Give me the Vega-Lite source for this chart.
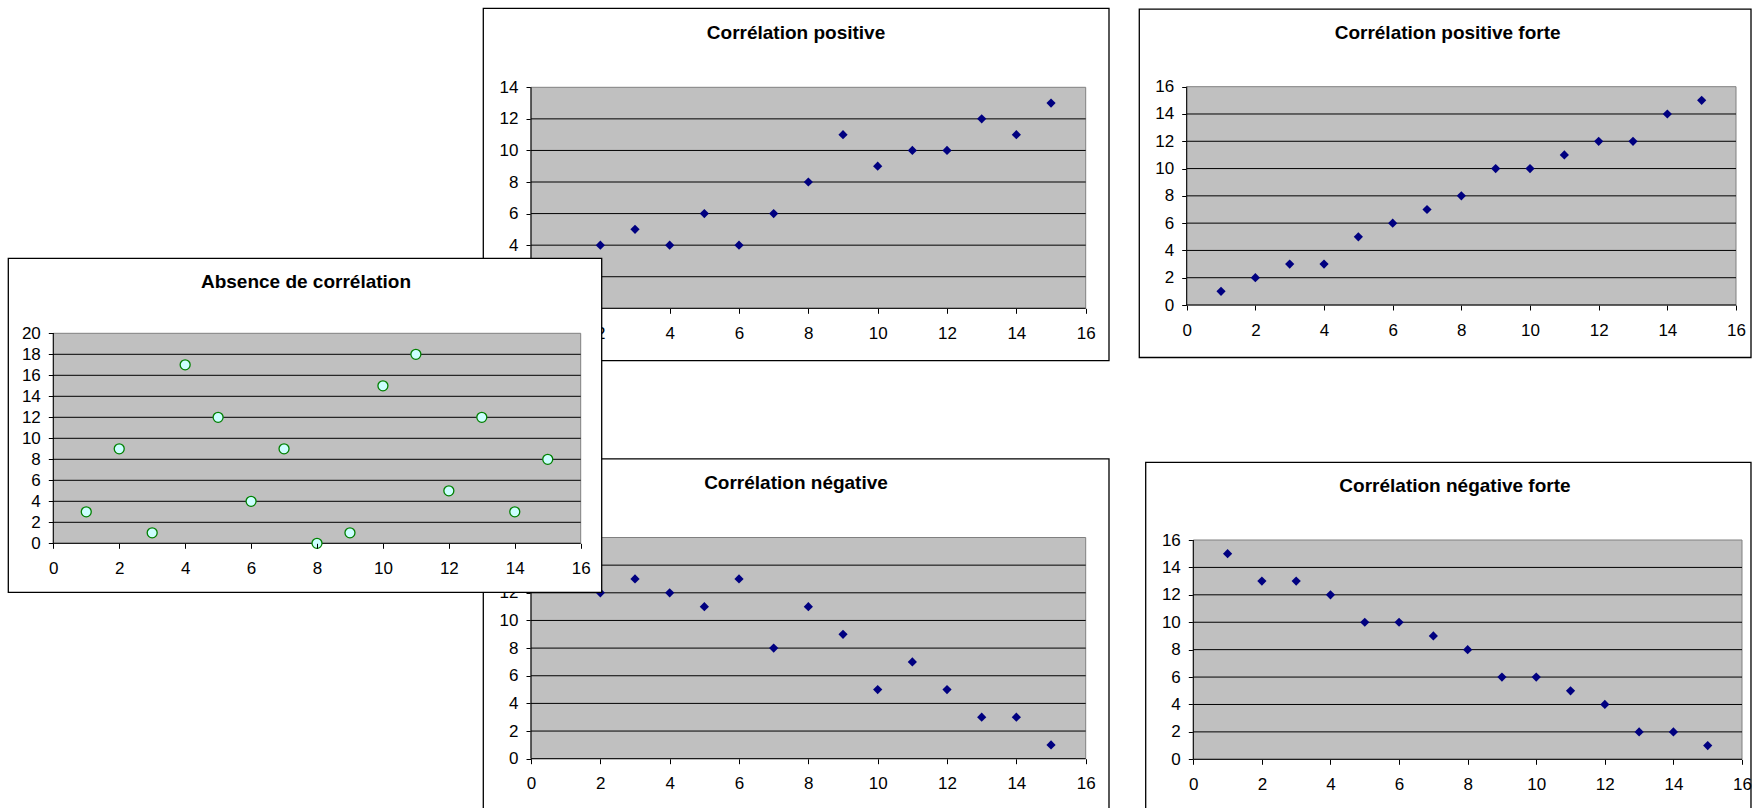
{
  "$schema": "https://vega.github.io/schema/vega-lite/v6.json",
  "width": 1752,
  "height": 808,
  "autosize": {"type": "none"},
  "padding": 0,
  "background": "white",
  "config": {
    "view": {"stroke": null},
    "axis": {"domain": false, "grid": false, "ticks": true, "tickColor": "black", "tickSize": 5, "tickWidth": 1, "labelFont": "Liberation Sans", "labelFontSize": 17, "labelColor": "black", "labelFlush": false, "labelOverlap": false},
    "axisX": {"labelPadding": 12},
    "axisY": {"labelPadding": 8}
  },
  "datasets": {
    "pos": [{"x":1,"y":2},{"x":2,"y":4},{"x":3,"y":5},{"x":4,"y":4},{"x":5,"y":6},{"x":6,"y":4},{"x":7,"y":6},{"x":8,"y":8},{"x":9,"y":11},{"x":10,"y":9},{"x":11,"y":10},{"x":12,"y":10},{"x":13,"y":12},{"x":14,"y":11},{"x":15,"y":13}],
    "posf": [{"x":1,"y":1},{"x":2,"y":2},{"x":3,"y":3},{"x":4,"y":3},{"x":5,"y":5},{"x":6,"y":6},{"x":7,"y":7},{"x":8,"y":8},{"x":9,"y":10},{"x":10,"y":10},{"x":11,"y":11},{"x":12,"y":12},{"x":13,"y":12},{"x":14,"y":14},{"x":15,"y":15}],
    "neg": [{"x":1,"y":14},{"x":2,"y":12},{"x":3,"y":13},{"x":4,"y":12},{"x":5,"y":11},{"x":6,"y":13},{"x":7,"y":8},{"x":8,"y":11},{"x":9,"y":9},{"x":10,"y":5},{"x":11,"y":7},{"x":12,"y":5},{"x":13,"y":3},{"x":14,"y":3},{"x":15,"y":1}],
    "negf": [{"x":1,"y":15},{"x":2,"y":13},{"x":3,"y":13},{"x":4,"y":12},{"x":5,"y":10},{"x":6,"y":10},{"x":7,"y":9},{"x":8,"y":8},{"x":9,"y":6},{"x":10,"y":6},{"x":11,"y":5},{"x":12,"y":4},{"x":13,"y":2},{"x":14,"y":2},{"x":15,"y":1}],
    "abs": [{"x":1,"y":3},{"x":2,"y":9},{"x":3,"y":1},{"x":4,"y":17},{"x":5,"y":12},{"x":6,"y":4},{"x":7,"y":9},{"x":8,"y":0},{"x":9,"y":1},{"x":10,"y":15},{"x":11,"y":18},{"x":12,"y":5},{"x":13,"y":12},{"x":14,"y":3},{"x":15,"y":8}],
    "g14": [{"v":2},{"v":4},{"v":6},{"v":8},{"v":10},{"v":12}],
    "g16": [{"v":2},{"v":4},{"v":6},{"v":8},{"v":10},{"v":12},{"v":14}],
    "g20": [{"v":2},{"v":4},{"v":6},{"v":8},{"v":10},{"v":12},{"v":14},{"v":16},{"v":18}],
    "one": [{}]
  },
  "resolve": {"scale": {"x": "independent", "y": "independent"}, "axis": {"x": "independent", "y": "independent"}},
  "layer": [
    {
      "layer": [
        {"data": {"name": "one"}, "mark": {"type": "rect", "fill": "transparent", "stroke": "black", "strokeWidth": 1.3},
         "encoding": {"x": {"datum": -1.376, "type": "quantitative", "scale": {"domain": [0,16], "range": [531,1085.7], "nice": false, "zero": false}, "axis": {"orient": "bottom", "offset": -499.7, "values": [0,2,4,6,8,10,12,14,16], "title": null, "zindex": 0}}, "x2": {"datum": 16.672},
                      "y": {"datum": 19.004, "type": "quantitative", "scale": {"domain": [0,14], "range": [308.3,87.3], "nice": false, "zero": false}, "axis": {"orient": "left", "offset": -531, "values": [0,2,4,6,8,10,12,14], "title": null, "zindex": 0}}, "y2": {"datum": -3.319}}},
        {"data": {"name": "one"}, "mark": {"type": "rect", "fill": "#c0c0c0", "stroke": "#808080", "strokeWidth": 1},
         "encoding": {"x": {"datum": 0, "type": "quantitative", "axis": {"orient": "bottom", "offset": -499.7, "values": [0,2,4,6,8,10,12,14,16], "title": null, "zindex": 0}}, "x2": {"datum": 16}, "y": {"datum": 0, "type": "quantitative", "axis": {"orient": "left", "offset": -531, "values": [0,2,4,6,8,10,12,14], "title": null, "zindex": 0}}, "y2": {"datum": 14}}},
        {"data": {"name": "g14"}, "mark": {"type": "rule", "color": "black", "strokeWidth": 1},
         "encoding": {"x": {"datum": 0, "type": "quantitative", "axis": {"orient": "bottom", "offset": -499.7, "values": [0,2,4,6,8,10,12,14,16], "title": null, "zindex": 0}}, "x2": {"datum": 16}, "y": {"field": "v", "type": "quantitative", "axis": {"orient": "left", "offset": -531, "values": [0,2,4,6,8,10,12,14], "title": null, "zindex": 0}}}},
        {"data": {"name": "one"}, "mark": {"type": "rule", "color": "black", "strokeWidth": 1},
         "encoding": {"x": {"datum": 0, "type": "quantitative", "axis": {"orient": "bottom", "offset": -499.7, "values": [0,2,4,6,8,10,12,14,16], "title": null, "zindex": 0}}, "x2": {"datum": 16}, "y": {"datum": 0, "type": "quantitative", "axis": {"orient": "left", "offset": -531, "values": [0,2,4,6,8,10,12,14], "title": null, "zindex": 0}}}},
        {"data": {"name": "one"}, "mark": {"type": "rule", "color": "black", "strokeWidth": 1},
         "encoding": {"x": {"datum": 0, "type": "quantitative", "axis": {"orient": "bottom", "offset": -499.7, "values": [0,2,4,6,8,10,12,14,16], "title": null, "zindex": 0}}, "y": {"datum": 0, "type": "quantitative", "axis": {"orient": "left", "offset": -531, "values": [0,2,4,6,8,10,12,14], "title": null, "zindex": 0}}, "y2": {"datum": 14}}},
        {"data": {"name": "pos"}, "mark": {"type": "point", "shape": "diamond", "filled": true, "color": "#000080", "size": 85, "opacity": 1},
         "encoding": {"x": {"field": "x", "type": "quantitative", "scale": {"domain": [0,16], "range": [531,1085.7], "nice": false, "zero": false}, "axis": {"orient": "bottom", "offset": -499.7, "values": [0,2,4,6,8,10,12,14,16], "title": null, "zindex": 0}},
                      "y": {"field": "y", "type": "quantitative", "scale": {"domain": [0,14], "range": [308.3,87.3], "nice": false, "zero": false}, "axis": {"orient": "left", "offset": -531, "values": [0,2,4,6,8,10,12,14], "title": null, "zindex": 0}}}},
        {"data": {"name": "one"}, "mark": {"type": "text", "text": "Corrélation positive", "font": "Liberation Sans", "fontSize": 19, "fontWeight": "bold", "color": "black", "align": "center", "baseline": "middle"},
         "encoding": {"x": {"datum": 7.644, "type": "quantitative", "axis": {"orient": "bottom", "offset": -499.7, "values": [0,2,4,6,8,10,12,14,16], "title": null, "zindex": 0}}, "y": {"datum": 17.42, "type": "quantitative", "axis": {"orient": "left", "offset": -531, "values": [0,2,4,6,8,10,12,14], "title": null, "zindex": 0}}}}
      ]
    },
    {
      "layer": [
        {"data": {"name": "one"}, "mark": {"type": "rect", "fill": "transparent", "stroke": "black", "strokeWidth": 1.3},
         "encoding": {"x": {"datum": -1.376, "type": "quantitative", "scale": {"domain": [0,16], "range": [531,1085.7], "nice": false, "zero": false}, "axis": {"orient": "bottom", "offset": -49.3, "values": [0,2,4,6,8,10,12,14,16], "title": null, "zindex": 0}}, "x2": {"datum": 16.672},
                      "y": {"datum": 21.68, "type": "quantitative", "scale": {"domain": [0,16], "range": [758.7,537.5], "nice": false, "zero": false}, "axis": {"orient": "left", "offset": -531, "values": [0,2,4,6,8,10,12], "title": null, "zindex": 0}}, "y2": {"datum": -4.07}}},
        {"data": {"name": "one"}, "mark": {"type": "rect", "fill": "#c0c0c0", "stroke": "#808080", "strokeWidth": 1},
         "encoding": {"x": {"datum": 0, "type": "quantitative", "axis": {"orient": "bottom", "offset": -49.3, "values": [0,2,4,6,8,10,12,14,16], "title": null, "zindex": 0}}, "x2": {"datum": 16}, "y": {"datum": 0, "type": "quantitative", "axis": {"orient": "left", "offset": -531, "values": [0,2,4,6,8,10,12], "title": null, "zindex": 0}}, "y2": {"datum": 16}}},
        {"data": {"name": "g16"}, "mark": {"type": "rule", "color": "black", "strokeWidth": 1},
         "encoding": {"x": {"datum": 0, "type": "quantitative", "axis": {"orient": "bottom", "offset": -49.3, "values": [0,2,4,6,8,10,12,14,16], "title": null, "zindex": 0}}, "x2": {"datum": 16}, "y": {"field": "v", "type": "quantitative", "axis": {"orient": "left", "offset": -531, "values": [0,2,4,6,8,10,12], "title": null, "zindex": 0}}}},
        {"data": {"name": "one"}, "mark": {"type": "rule", "color": "black", "strokeWidth": 1},
         "encoding": {"x": {"datum": 0, "type": "quantitative", "axis": {"orient": "bottom", "offset": -49.3, "values": [0,2,4,6,8,10,12,14,16], "title": null, "zindex": 0}}, "x2": {"datum": 16}, "y": {"datum": 0, "type": "quantitative", "axis": {"orient": "left", "offset": -531, "values": [0,2,4,6,8,10,12], "title": null, "zindex": 0}}}},
        {"data": {"name": "one"}, "mark": {"type": "rule", "color": "black", "strokeWidth": 1},
         "encoding": {"x": {"datum": 0, "type": "quantitative", "axis": {"orient": "bottom", "offset": -49.3, "values": [0,2,4,6,8,10,12,14,16], "title": null, "zindex": 0}}, "y": {"datum": 0, "type": "quantitative", "axis": {"orient": "left", "offset": -531, "values": [0,2,4,6,8,10,12], "title": null, "zindex": 0}}, "y2": {"datum": 16}}},
        {"data": {"name": "neg"}, "mark": {"type": "point", "shape": "diamond", "filled": true, "color": "#000080", "size": 85, "opacity": 1},
         "encoding": {"x": {"field": "x", "type": "quantitative", "scale": {"domain": [0,16], "range": [531,1085.7], "nice": false, "zero": false}, "axis": {"orient": "bottom", "offset": -49.3, "values": [0,2,4,6,8,10,12,14,16], "title": null, "zindex": 0}},
                      "y": {"field": "y", "type": "quantitative", "scale": {"domain": [0,16], "range": [758.7,537.5], "nice": false, "zero": false}, "axis": {"orient": "left", "offset": -531, "values": [0,2,4,6,8,10,12], "title": null, "zindex": 0}}}},
        {"data": {"name": "one"}, "mark": {"type": "text", "text": "Corrélation négative", "font": "Liberation Sans", "fontSize": 19, "fontWeight": "bold", "color": "black", "align": "center", "baseline": "middle"},
         "encoding": {"x": {"datum": 7.644, "type": "quantitative", "axis": {"orient": "bottom", "offset": -49.3, "values": [0,2,4,6,8,10,12,14,16], "title": null, "zindex": 0}}, "y": {"datum": 19.92, "type": "quantitative", "axis": {"orient": "left", "offset": -531, "values": [0,2,4,6,8,10,12], "title": null, "zindex": 0}}}}
      ]
    },
    {
      "layer": [
        {"data": {"name": "one"}, "mark": {"type": "rect", "fill": "transparent", "stroke": "black", "strokeWidth": 1.3},
         "encoding": {"x": {"datum": -1.381, "type": "quantitative", "scale": {"domain": [0,16], "range": [1186.7,1736], "nice": false, "zero": false}, "axis": {"orient": "bottom", "offset": -503, "values": [0,2,4,6,8,10,12,14,16], "title": null, "zindex": 0}}, "x2": {"datum": 16.437},
                      "y": {"datum": 21.69, "type": "quantitative", "scale": {"domain": [0,16], "range": [305,86.7], "nice": false, "zero": false}, "axis": {"orient": "left", "offset": -1186.7, "values": [0,2,4,6,8,10,12,14,16], "title": null, "zindex": 0}}, "y2": {"datum": -3.848}}},
        {"data": {"name": "one"}, "mark": {"type": "rect", "fill": "#c0c0c0", "stroke": "#808080", "strokeWidth": 1},
         "encoding": {"x": {"datum": 0, "type": "quantitative", "axis": {"orient": "bottom", "offset": -503, "values": [0,2,4,6,8,10,12,14,16], "title": null, "zindex": 0}}, "x2": {"datum": 16}, "y": {"datum": 0, "type": "quantitative", "axis": {"orient": "left", "offset": -1186.7, "values": [0,2,4,6,8,10,12,14,16], "title": null, "zindex": 0}}, "y2": {"datum": 16}}},
        {"data": {"name": "g16"}, "mark": {"type": "rule", "color": "black", "strokeWidth": 1},
         "encoding": {"x": {"datum": 0, "type": "quantitative", "axis": {"orient": "bottom", "offset": -503, "values": [0,2,4,6,8,10,12,14,16], "title": null, "zindex": 0}}, "x2": {"datum": 16}, "y": {"field": "v", "type": "quantitative", "axis": {"orient": "left", "offset": -1186.7, "values": [0,2,4,6,8,10,12,14,16], "title": null, "zindex": 0}}}},
        {"data": {"name": "one"}, "mark": {"type": "rule", "color": "black", "strokeWidth": 1},
         "encoding": {"x": {"datum": 0, "type": "quantitative", "axis": {"orient": "bottom", "offset": -503, "values": [0,2,4,6,8,10,12,14,16], "title": null, "zindex": 0}}, "x2": {"datum": 16}, "y": {"datum": 0, "type": "quantitative", "axis": {"orient": "left", "offset": -1186.7, "values": [0,2,4,6,8,10,12,14,16], "title": null, "zindex": 0}}}},
        {"data": {"name": "one"}, "mark": {"type": "rule", "color": "black", "strokeWidth": 1},
         "encoding": {"x": {"datum": 0, "type": "quantitative", "axis": {"orient": "bottom", "offset": -503, "values": [0,2,4,6,8,10,12,14,16], "title": null, "zindex": 0}}, "y": {"datum": 0, "type": "quantitative", "axis": {"orient": "left", "offset": -1186.7, "values": [0,2,4,6,8,10,12,14,16], "title": null, "zindex": 0}}, "y2": {"datum": 16}}},
        {"data": {"name": "posf"}, "mark": {"type": "point", "shape": "diamond", "filled": true, "color": "#000080", "size": 85, "opacity": 1},
         "encoding": {"x": {"field": "x", "type": "quantitative", "scale": {"domain": [0,16], "range": [1186.7,1736], "nice": false, "zero": false}, "axis": {"orient": "bottom", "offset": -503, "values": [0,2,4,6,8,10,12,14,16], "title": null, "zindex": 0}},
                      "y": {"field": "y", "type": "quantitative", "scale": {"domain": [0,16], "range": [305,86.7], "nice": false, "zero": false}, "axis": {"orient": "left", "offset": -1186.7, "values": [0,2,4,6,8,10,12,14,16], "title": null, "zindex": 0}}}},
        {"data": {"name": "one"}, "mark": {"type": "text", "text": "Corrélation positive forte", "font": "Liberation Sans", "fontSize": 19, "fontWeight": "bold", "color": "black", "align": "center", "baseline": "middle"},
         "encoding": {"x": {"datum": 7.6, "type": "quantitative", "axis": {"orient": "bottom", "offset": -503, "values": [0,2,4,6,8,10,12,14,16], "title": null, "zindex": 0}}, "y": {"datum": 19.91, "type": "quantitative", "axis": {"orient": "left", "offset": -1186.7, "values": [0,2,4,6,8,10,12,14,16], "title": null, "zindex": 0}}}}
      ]
    },
    {
      "layer": [
        {"data": {"name": "one"}, "mark": {"type": "rect", "fill": "transparent", "stroke": "black", "strokeWidth": 1.3},
         "encoding": {"x": {"datum": -1.388, "type": "quantitative", "scale": {"domain": [0,16], "range": [1193.3,1742], "nice": false, "zero": false}, "axis": {"orient": "bottom", "offset": -48.7, "values": [0,2,4,6,8,10,12,14,16], "title": null, "zindex": 0}}, "x2": {"datum": 16.262},
                      "y": {"datum": 21.67, "type": "quantitative", "scale": {"domain": [0,16], "range": [759.3,540], "nice": false, "zero": false}, "axis": {"orient": "left", "offset": -1193.3, "values": [0,2,4,6,8,10,12,14,16], "title": null, "zindex": 0}}, "y2": {"datum": -4.06}}},
        {"data": {"name": "one"}, "mark": {"type": "rect", "fill": "#c0c0c0", "stroke": "#808080", "strokeWidth": 1},
         "encoding": {"x": {"datum": 0, "type": "quantitative", "axis": {"orient": "bottom", "offset": -48.7, "values": [0,2,4,6,8,10,12,14,16], "title": null, "zindex": 0}}, "x2": {"datum": 16}, "y": {"datum": 0, "type": "quantitative", "axis": {"orient": "left", "offset": -1193.3, "values": [0,2,4,6,8,10,12,14,16], "title": null, "zindex": 0}}, "y2": {"datum": 16}}},
        {"data": {"name": "g16"}, "mark": {"type": "rule", "color": "black", "strokeWidth": 1},
         "encoding": {"x": {"datum": 0, "type": "quantitative", "axis": {"orient": "bottom", "offset": -48.7, "values": [0,2,4,6,8,10,12,14,16], "title": null, "zindex": 0}}, "x2": {"datum": 16}, "y": {"field": "v", "type": "quantitative", "axis": {"orient": "left", "offset": -1193.3, "values": [0,2,4,6,8,10,12,14,16], "title": null, "zindex": 0}}}},
        {"data": {"name": "one"}, "mark": {"type": "rule", "color": "black", "strokeWidth": 1},
         "encoding": {"x": {"datum": 0, "type": "quantitative", "axis": {"orient": "bottom", "offset": -48.7, "values": [0,2,4,6,8,10,12,14,16], "title": null, "zindex": 0}}, "x2": {"datum": 16}, "y": {"datum": 0, "type": "quantitative", "axis": {"orient": "left", "offset": -1193.3, "values": [0,2,4,6,8,10,12,14,16], "title": null, "zindex": 0}}}},
        {"data": {"name": "one"}, "mark": {"type": "rule", "color": "black", "strokeWidth": 1},
         "encoding": {"x": {"datum": 0, "type": "quantitative", "axis": {"orient": "bottom", "offset": -48.7, "values": [0,2,4,6,8,10,12,14,16], "title": null, "zindex": 0}}, "y": {"datum": 0, "type": "quantitative", "axis": {"orient": "left", "offset": -1193.3, "values": [0,2,4,6,8,10,12,14,16], "title": null, "zindex": 0}}, "y2": {"datum": 16}}},
        {"data": {"name": "negf"}, "mark": {"type": "point", "shape": "diamond", "filled": true, "color": "#000080", "size": 85, "opacity": 1},
         "encoding": {"x": {"field": "x", "type": "quantitative", "scale": {"domain": [0,16], "range": [1193.3,1742], "nice": false, "zero": false}, "axis": {"orient": "bottom", "offset": -48.7, "values": [0,2,4,6,8,10,12,14,16], "title": null, "zindex": 0}},
                      "y": {"field": "y", "type": "quantitative", "scale": {"domain": [0,16], "range": [759.3,540], "nice": false, "zero": false}, "axis": {"orient": "left", "offset": -1193.3, "values": [0,2,4,6,8,10,12,14,16], "title": null, "zindex": 0}}}},
        {"data": {"name": "one"}, "mark": {"type": "text", "text": "Corrélation négative forte", "font": "Liberation Sans", "fontSize": 19, "fontWeight": "bold", "color": "black", "align": "center", "baseline": "middle"},
         "encoding": {"x": {"datum": 7.63, "type": "quantitative", "axis": {"orient": "bottom", "offset": -48.7, "values": [0,2,4,6,8,10,12,14,16], "title": null, "zindex": 0}}, "y": {"datum": 19.94, "type": "quantitative", "axis": {"orient": "left", "offset": -1193.3, "values": [0,2,4,6,8,10,12,14,16], "title": null, "zindex": 0}}}}
      ]
    },
    {
      "layer": [
        {"data": {"name": "one"}, "mark": {"type": "rect", "fill": "white", "stroke": "black", "strokeWidth": 1.3},
         "encoding": {"x": {"datum": -1.365, "type": "quantitative", "scale": {"domain": [0,16], "range": [53.3,580.7], "nice": false, "zero": false}, "axis": {"orient": "bottom", "offset": -264.7, "values": [0,2,4,6,8,10,12,14,16], "title": null, "zindex": 1}}, "x2": {"datum": 16.637},
                      "y": {"datum": 27.14, "type": "quantitative", "scale": {"domain": [0,20], "range": [543.3,333.3], "nice": false, "zero": false}, "axis": {"orient": "left", "offset": -53.3, "values": [0,2,4,6,8,10,12,14,16,18,20], "title": null, "zindex": 1}}, "y2": {"datum": -4.667}}},
        {"data": {"name": "one"}, "mark": {"type": "rect", "fill": "#c0c0c0", "stroke": "#808080", "strokeWidth": 1},
         "encoding": {"x": {"datum": 0, "type": "quantitative", "axis": {"orient": "bottom", "offset": -264.7, "values": [0,2,4,6,8,10,12,14,16], "title": null, "zindex": 1}}, "x2": {"datum": 16}, "y": {"datum": 0, "type": "quantitative", "axis": {"orient": "left", "offset": -53.3, "values": [0,2,4,6,8,10,12,14,16,18,20], "title": null, "zindex": 1}}, "y2": {"datum": 20}}},
        {"data": {"name": "g20"}, "mark": {"type": "rule", "color": "black", "strokeWidth": 1},
         "encoding": {"x": {"datum": 0, "type": "quantitative", "axis": {"orient": "bottom", "offset": -264.7, "values": [0,2,4,6,8,10,12,14,16], "title": null, "zindex": 1}}, "x2": {"datum": 16}, "y": {"field": "v", "type": "quantitative", "axis": {"orient": "left", "offset": -53.3, "values": [0,2,4,6,8,10,12,14,16,18,20], "title": null, "zindex": 1}}}},
        {"data": {"name": "one"}, "mark": {"type": "rule", "color": "black", "strokeWidth": 1},
         "encoding": {"x": {"datum": 0, "type": "quantitative", "axis": {"orient": "bottom", "offset": -264.7, "values": [0,2,4,6,8,10,12,14,16], "title": null, "zindex": 1}}, "x2": {"datum": 16}, "y": {"datum": 0, "type": "quantitative", "axis": {"orient": "left", "offset": -53.3, "values": [0,2,4,6,8,10,12,14,16,18,20], "title": null, "zindex": 1}}}},
        {"data": {"name": "one"}, "mark": {"type": "rule", "color": "black", "strokeWidth": 1},
         "encoding": {"x": {"datum": 0, "type": "quantitative", "axis": {"orient": "bottom", "offset": -264.7, "values": [0,2,4,6,8,10,12,14,16], "title": null, "zindex": 1}}, "y": {"datum": 0, "type": "quantitative", "axis": {"orient": "left", "offset": -53.3, "values": [0,2,4,6,8,10,12,14,16,18,20], "title": null, "zindex": 1}}, "y2": {"datum": 20}}},
        {"data": {"name": "abs"}, "mark": {"type": "circle", "size": 100, "fill": "#ccffff", "stroke": "#008000", "strokeWidth": 1.3, "opacity": 1},
         "encoding": {"x": {"field": "x", "type": "quantitative", "scale": {"domain": [0,16], "range": [53.3,580.7], "nice": false, "zero": false}, "axis": {"orient": "bottom", "offset": -264.7, "values": [0,2,4,6,8,10,12,14,16], "title": null, "zindex": 1}},
                      "y": {"field": "y", "type": "quantitative", "scale": {"domain": [0,20], "range": [543.3,333.3], "nice": false, "zero": false}, "axis": {"orient": "left", "offset": -53.3, "values": [0,2,4,6,8,10,12,14,16,18,20], "title": null, "zindex": 1}}}},
        {"data": {"name": "one"}, "mark": {"type": "text", "text": "Absence de corrélation", "font": "Liberation Sans", "fontSize": 19, "fontWeight": "bold", "color": "black", "align": "center", "baseline": "middle"},
         "encoding": {"x": {"datum": 7.666, "type": "quantitative", "axis": {"orient": "bottom", "offset": -264.7, "values": [0,2,4,6,8,10,12,14,16], "title": null, "zindex": 1}}, "y": {"datum": 24.91, "type": "quantitative", "axis": {"orient": "left", "offset": -53.3, "values": [0,2,4,6,8,10,12,14,16,18,20], "title": null, "zindex": 1}}}}
      ]
    }
  ]
}
